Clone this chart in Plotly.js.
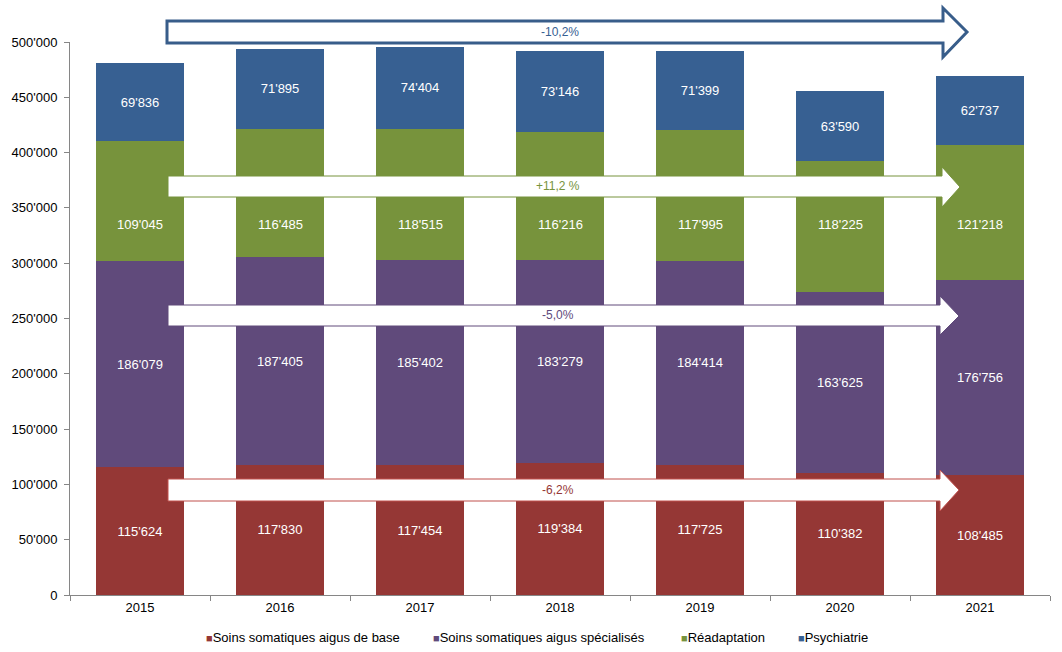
<!DOCTYPE html>
<html>
<head>
<meta charset="utf-8">
<script src="https://cdn.plot.ly/plotly-3.0.1.min.js"></script>
<style>html,body{margin:0;padding:0;background:#fff;}#chart{width:1062px;height:652px;}</style>
</head>
<body>
<div id="chart"></div>
<script>
const years = ['2015','2016','2017','2018','2019','2020','2021'];
const baseCare = [115624,117830,117454,119384,117725,110382,108485];
const specCare = [186079,187405,185402,183279,184414,163625,176756];
const rehab = [109045,116485,118515,116216,117995,118225,121218];
const psych = [69836,71895,74404,73146,71399,63590,62737];
const seriesNames = ['Soins somatiques aigus de base','Soins somatiques aigus spécialisés','Réadaptation','Psychiatrie'];
const seriesColors = ['#953735','#604A7B','#77933C','#376092'];
const arrowLabels = ['-10,2%','+11,2 %','-5,0%','-6,2%'];
const yTicks = [0,50000,100000,150000,200000,250000,300000,350000,400000,450000,500000];

const FONT = 'Liberation Sans, Arial, sans-serif';
const FS = 13;
const W = 1062, H = 652;
const L = 70, R = 12, T = 42, B = 5;
const plotBottom = 595;
const pw = W - L - R, ph = H - T - B;
const px = x => (x - L) / pw;
const py = y => (H - B - y) / ph;
const fmt = v => String(v).replace(/\B(?=(\d{3})+(?!\d))/g, "'");

// green labels sit on one row just under the "+11,2 %" arrow (as in the original)
const GREEN_LABEL_Y = 335000;

const allVals = [baseCare, specCare, rehab, psych];
const traces = allVals.map((vals, i) => ({
  type: 'bar', x: years, y: vals, name: seriesNames[i],
  marker: {color: seriesColors[i], line: {width: 0}},
  texttemplate: '%{y:,}', textposition: i === 2 ? 'none' : 'inside', insidetextanchor: 'middle',
  textfont: {color: '#ffffff', size: FS, family: FONT},
  hoverinfo: 'skip', showlegend: false
}));

function arrow(x0, x1, xt, yb0, yb1, yh0, yh1, yt) {
  return 'M' + px(x0) + ',' + py(yb0) + ' L' + px(x1) + ',' + py(yb0) +
    ' L' + px(x1) + ',' + py(yh0) + ' L' + px(xt) + ',' + py(yt) +
    ' L' + px(x1) + ',' + py(yh1) + ' L' + px(x1) + ',' + py(yb1) +
    ' L' + px(x0) + ',' + py(yb1) + ' Z';
}
const arrowDefs = [
  {p: [167, 943, 967, 21, 43, 8, 57, 32], c: '#385D8A', w: 3, tx: 560, ty: 32, tc: '#376092'},
  {p: [168, 942, 960, 176, 197, 167, 207, 187], c: '#77933C', w: 1, tx: 558, ty: 186, tc: '#77933C'},
  {p: [168, 940, 959, 305, 326, 296, 335, 316], c: '#604A7B', w: 1, tx: 558, ty: 315, tc: '#604A7B'},
  {p: [168, 940, 959, 479, 501, 470, 511, 490], c: '#C0504D', w: 1, tx: 558, ty: 490, tc: '#953735'}
];
const shapes = arrowDefs.map(a => ({
  type: 'path', xref: 'paper', yref: 'paper', layer: 'above',
  path: arrow.apply(null, a.p), fillcolor: '#ffffff', line: {color: a.c, width: a.w}
}));
const annotations = arrowDefs.map((a, i) => ({
  xref: 'paper', yref: 'paper', x: px(a.tx), y: py(a.ty), xanchor: 'center', yanchor: 'middle',
  text: arrowLabels[i], showarrow: false, font: {family: FONT, size: 12, color: a.tc}
}));
years.forEach((yr, i) => annotations.push({
  xref: 'x', yref: 'y', x: i, y: GREEN_LABEL_Y, xanchor: 'center', yanchor: 'middle',
  text: fmt(rehab[i]), showarrow: false, font: {family: FONT, size: FS, color: '#ffffff'}
}));
// legend (small square markers directly before the names, as in the original)
const legendX = [204, 431, 679, 796];
seriesNames.forEach((n, i) => annotations.push({
  xref: 'paper', yref: 'paper', x: px(legendX[i]), y: py(637), xanchor: 'left', yanchor: 'middle',
  text: '<span style="color:' + seriesColors[i] + ';font-size:11px">■</span>' + n,
  showarrow: false, font: {family: FONT, size: FS, color: '#000000'}
}));

const layout = {
  width: W, height: H, barmode: 'stack', bargap: 0.371,
  separators: ".'",
  margin: {l: L, r: R, t: T, b: B, pad: 0},
  paper_bgcolor: '#ffffff', plot_bgcolor: '#ffffff',
  font: {family: FONT, size: FS, color: '#000000'},
  showlegend: false,
  xaxis: {type: 'category', range: [-0.5, years.length - 0.5], autorange: false,
    showline: true, linecolor: '#868686', linewidth: 1,
    ticks: 'outside', tickson: 'boundaries', ticklen: 5, tickcolor: '#868686',
    showgrid: false, zeroline: false, tickfont: {size: FS, color: '#000000'}, fixedrange: true},
  yaxis: {domain: [(H - B - plotBottom) / ph, 1], range: [0, 500000], autorange: false, tickvals: yTicks, tickformat: ',',
    showline: true, linecolor: '#868686', linewidth: 1, ticks: 'outside', ticklen: 5, tickcolor: '#868686',
    showgrid: false, zeroline: false, tickfont: {size: FS, color: '#000000'}, ticklabelstandoff: 4, fixedrange: true},
  shapes: shapes, annotations: annotations
};
Plotly.newPlot('chart', traces, layout, {displayModeBar: false, staticPlot: true});
</script>
</body>
</html>
